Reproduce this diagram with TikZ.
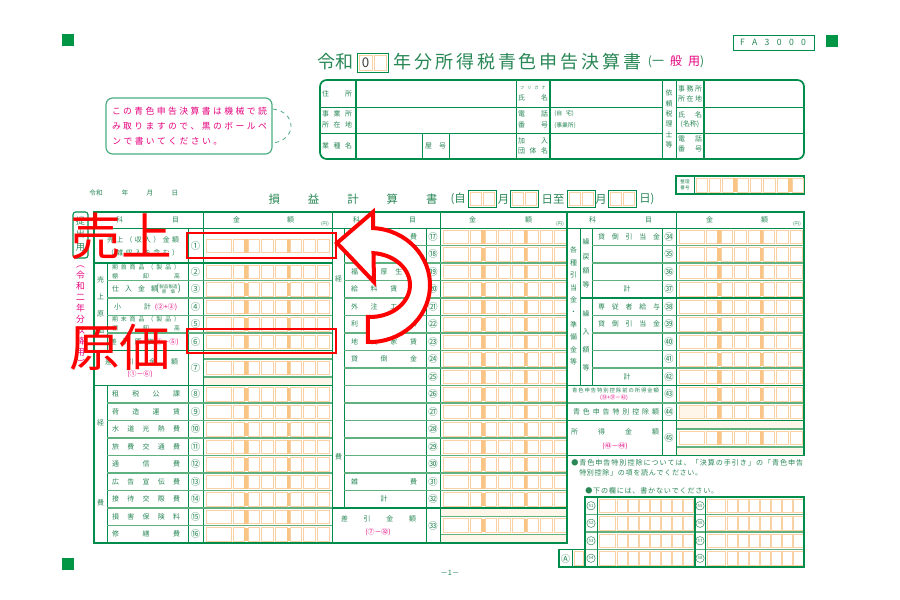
\documentclass[tikz,border=0pt]{standalone}
\usepackage{fontspec}
\setmainfont{Noto Sans CJK JP}
\usetikzlibrary{calc}
\definecolor{fgreen}{RGB}{0,140,75}
\definecolor{rgreen}{RGB}{95,178,128}
\definecolor{tgreen}{RGB}{40,135,85}
\definecolor{corange}{RGB}{250,208,165}
\definecolor{borange}{RGB}{248,197,135}
\definecolor{beige}{RGB}{253,246,233}
\definecolor{mgnta}{RGB}{230,0,126}
\definecolor{sqgreen}{RGB}{0,150,70}
\newlength\pxu \setlength\pxu{0.75pt}
\def\sprdA#1#2{#1\ifx\relax#2\else\hfil\expandafter\sprdA\expandafter#2\fi}
\newcommand\sprd[2]{\makebox[#1\pxu][s]{\expandafter\sprdA#2\relax}}
\newcommand\fszL{\fontsize{5.2}{6}\selectfont}
\newcommand\fszS{\fontsize{4.4}{5}\selectfont}
\newcommand\fszT{\fontsize{3.4}{4}\selectfont}
\newcommand\fszN{\fontsize{7}{8}\selectfont}
\newcommand\fszBig{\fontsize{38}{40}\selectfont}
\newcommand\amtrow[2]{%
  \draw[cellbox] ({#1+3},{#2}) rectangle ({#1+28},{#2+13.5});
  \foreach \cA/\cB in {30/41,45/56,58/70,72/84,87/98,100/112,114/126}
    {\draw[cellbox] ({#1+\cA},{#2}) rectangle ({#1+\cB},{#2+13.5});}
  \fill[borange] ({#1+41.2},{#2}) rectangle ({#1+44.8},{#2+13.5});
  \fill[borange] ({#1+84.2},{#2}) rectangle ({#1+86.8},{#2+13.5});
}
\newcommand\amtdbl[3]{%
  \fill[beige] ({#1},{#2}) rectangle ({#1+#3},{#2+35});
  \fill[white] ({#1},{#2+8.5}) rectangle ({#1+#3},{#2+26.5});
  \draw[rowl] ({#1},{#2+8.5}) -- ({#1+#3},{#2+8.5});
  \draw[rowl] ({#1},{#2+26.5}) -- ({#1+#3},{#2+26.5});
  \amtrow{#1}{#2+10.75}
}
\begin{document}
\begin{tikzpicture}[x=0.75pt,y=-0.75pt,
  outer/.style={draw=fgreen,line width=1.3pt},
  midl/.style={draw=fgreen,line width=1pt},
  inner/.style={draw=fgreen,line width=0.6pt},
  rowl/.style={draw=rgreen,line width=0.8pt},
  cellbox/.style={draw=corange,line width=0.55pt,fill=white},
  lbl/.style={text=tgreen,font=\fszL,inner sep=0pt},
  mg/.style={text=mgnta,font=\fszL,inner sep=0pt},
  num/.style={text=tgreen,font=\fszN,inner sep=0pt},
  cnum/.style={circle,draw=tgreen,line width=0.35pt,text=tgreen,inner sep=0pt,minimum size=6.3pt,font=\fontsize{3.2}{3.5}\selectfont},
  redbox/.style={draw=red,line width=2.2pt},
  bigred/.style={text=red,font=\fszBig,inner sep=0pt},
  redarrow/.style={draw=red,line width=3pt,fill=white,line join=miter}]
\useasboundingbox (0,0) rectangle (900,600);
\fill[white] (0,0) rectangle (900,600);

% corner marks
\fill[sqgreen] (62,34) rectangle (74,46);
\fill[sqgreen] (826,35) rectangle (838,47);
\fill[sqgreen] (62,558) rectangle (74,570);

% FA3000
\draw[inner] (733,35) rectangle (814,50);
\node[lbl,font=\fontsize{6.5}{7}\selectfont] (fa) at (773,42.5) {\sprd{66}{FA3000}};

% title
\node[lbl,font=\fontsize{13.5}{14}\selectfont] (t1) at (335,62) {令和};
\draw[inner] (357,53) rectangle (388,72);
\draw[cellbox] (359,55) rectangle (372,70);
\draw[cellbox] (374,55) rectangle (386,70);
\node[inner sep=0pt,text=black!75,font=\fontsize{10}{11}\selectfont] (t0) at (365.5,62.5) {0};
\node[lbl,font=\fontsize{13.5}{14}\selectfont] (t2) at (517.5,62) {\sprd{248}{年分所得税青色申告決算書}};
\node[inner sep=0pt,font=\fontsize{9}{10}\selectfont] (t3) at (676,62) {{\color{tgreen}(一}\hspace{4.5pt}{\color{mgnta}般}\hspace{4.5pt}{\color{mgnta}用}{\color{tgreen})}};

% note box
\draw[fgreen!70,line width=0.9pt,rounded corners=5] (106,98) rectangle (272,154);
\node[mg,font=\fontsize{6.6}{7}\selectfont] (nt1) at (189.5,111) {\sprd{155}{この青色申告決算書は機械で読}};
\node[mg,font=\fontsize{6.6}{7}\selectfont] (nt2) at (189.5,126) {\sprd{155}{み取りますので、黒のボールペ}};
\node[mg,font=\fontsize{6.6}{7}\selectfont,anchor=west] (nt3) at (112,141) {\sprd{110}{ンで書いてください。}};
\coordinate (dA) at (273,109);
\coordinate (dB) at (273,143);
\draw[fgreen!70,dashed,line width=0.6pt] (dA) .. controls (297,112) and (297,140) .. (dB);

% info box
\draw[outer,rounded corners=5] (320,80) rectangle (804,159);
\draw[midl] (356,80) -- (356,159);
\draw[inner] (516,80) -- (516,159);
\draw[midl] (550,80) -- (550,159);
\draw[inner] (662,80) -- (662,159);
\draw[inner] (676,80) -- (676,159);
\draw[midl] (704,80) -- (704,159);
\draw[inner] (320,107) -- (662,107);
\draw[inner] (676,107) -- (804,107);
\draw[inner] (320,133) -- (662,133);
\draw[inner] (676,133) -- (804,133);
\draw[inner] (422,133) -- (422,159);
\draw[inner] (449,133) -- (449,159);
\node[lbl] (i1) at (337,94) {\sprd{30}{住所}};
\node[lbl] (i2) at (337,114) {\sprd{30}{事業所}};
\node[lbl] (i3) at (337,125) {\sprd{30}{所在地}};
\node[lbl] (i4) at (337,146) {\sprd{30}{業種名}};
\node[lbl] (i5) at (435.5,146) {\sprd{21}{屋号}};
\node[lbl,font=\fontsize{3.2}{4}\selectfont] (i6) at (533,88) {\sprd{26}{フリガナ}};
\node[lbl] (i7) at (533,98) {\sprd{30}{氏名}};
\node[lbl] (i8) at (533,114) {\sprd{30}{電話}};
\node[lbl] (i9) at (533,125) {\sprd{30}{番号}};
\node[lbl] (i10) at (533,141) {\sprd{30}{加入}};
\node[lbl] (i11) at (533,151) {\sprd{30}{団体名}};
\node[lbl,anchor=west,font=\fszS] (i12) at (554,114) {(自\hspace{3pt}宅)};
\node[lbl,anchor=west,font=\fszS] (i13) at (554,126) {(事業所)};
\node[lbl,align=center,font=\fontsize{5.2}{7.8}\selectfont] (i14) at (669,119) {依\\頼\\税\\理\\士\\等};
\node[lbl] (i15) at (690,89) {\sprd{24}{事務所}};
\node[lbl] (i16) at (690,99) {\sprd{24}{所在地}};
\node[lbl] (i17) at (690,115) {\sprd{24}{氏名}};
\node[lbl] (i18) at (690,124) {(名称)};
\node[lbl] (i19) at (690,139) {\sprd{24}{電話}};
\node[lbl] (i20) at (690,149) {\sprd{24}{番号}};

% date line
\node[lbl,font=\fontsize{5}{6}\selectfont] (d1) at (96,193) {令和};
\node[lbl,font=\fontsize{5}{6}\selectfont] (d2) at (125,193) {年};
\node[lbl,font=\fontsize{5}{6}\selectfont] (d3) at (150,193) {月};
\node[lbl,font=\fontsize{5}{6}\selectfont] (d4) at (175,193) {日};

% heading
\node[lbl,font=\fontsize{8.5}{9}\selectfont] (pl) at (353,199) {\sprd{169}{損益計算書}};
\node[lbl,font=\fontsize{8.5}{9}\selectfont,anchor=east] (p1) at (466,199) {(自};
\node[lbl,font=\fontsize{8.5}{9}\selectfont] (p2) at (503.5,199) {月};
\node[lbl,font=\fontsize{8.5}{9}\selectfont] (p3) at (553,199) {日至};
\node[lbl,font=\fontsize{8.5}{9}\selectfont] (p4) at (601,199) {月};
\node[lbl,font=\fontsize{8.5}{9}\selectfont,anchor=west] (p5) at (639,199) {日)};
\foreach \bx in {468,510,567,608} {
  \draw[inner] (\bx,190) rectangle ({\bx+28},207);
  \draw[cellbox] ({\bx+2},192) rectangle ({\bx+13.5},205);
  \draw[cellbox] ({\bx+15},192) rectangle ({\bx+26},205);
}
% seiri bango
\draw[midl] (676,176) rectangle (804,194);
\draw[inner] (694,176) -- (694,194);
\node[lbl,font=\fontsize{3.4}{4.2}\selectfont,align=center] (zb) at (685,185) {整理\\番号};
\foreach \a/\b in {696/707,709/720,722/733,737/748,750/761,763/775,777/788,792/803}
  {\draw[cellbox] (\a,178) rectangle (\b,192);}
\fill[borange] (733.3,178) rectangle (736.7,192);
\fill[borange] (788.3,178) rectangle (791.7,192);

% left strip
\draw[fgreen,line width=0.8pt,rounded corners=2] (73,212) rectangle (88,258);
\node[lbl,align=center,font=\fontsize{6.8}{10}\selectfont] (v1) at (80.5,234) {提\\出\\用};
\node[mg,align=center,font=\fontsize{6.6}{8.25}\selectfont] (v2) at (80.5,316) {︵\\令\\和\\二\\年\\分\\以\\降\\用\\︶};

% ===== amounts =====
\amtrow{203}{239}
\foreach \k in {2,...,6} {\amtrow{203}{228+17.5*\k+2}}
\amtdbl{203}{350.5}{129}
\foreach \k in {9,...,17} {\amtrow{203}{228+17.5*\k+2}}
\foreach \k in {0,...,15} {\amtrow{440}{228+17.5*\k+2}}
\amtdbl{440}{508}{127}
\foreach \k in {0,...,10} {\amtrow{676}{228+17.5*\k+2}}
\draw[cellbox,fill=beige] (679,405) rectangle (704,418.5);
\amtdbl{676}{420.5}{128}

% ===== left section grid =====
\draw[inner] (203,212) -- (203,543);
\draw[inner] (188,228) -- (188,543);
\draw[inner] (94,228) -- (332.5,228);
\draw[midl] (94,263) -- (332.5,263);
\draw[midl] (94,350.5) -- (332.5,350.5);
\draw[midl] (94,385.5) -- (332.5,385.5);
\draw[inner] (107,263) -- (107,350.5);
\draw[inner] (107,385.5) -- (107,543);
\foreach \k in {3,...,6} {\draw[rowl] (107,{228+17.5*\k}) -- (332.5,{228+17.5*\k});}
\foreach \k in {10,...,17} {\draw[rowl] (107,{228+17.5*\k}) -- (332.5,{228+17.5*\k});}
\draw[outer] (94,212) rectangle (332.5,543);

% ===== middle section grid =====
\draw[inner] (440,212) -- (440,543);
\draw[inner] (426,228) -- (426,543);
\draw[inner] (332.5,228) -- (567,228);
\draw[inner] (344,228) -- (344,508);
\foreach \k in {1,...,15} {\draw[rowl] (344,{228+17.5*\k}) -- (567,{228+17.5*\k});}
\draw[midl] (332.5,508) -- (567,508);
\draw[outer] (332.5,212) rectangle (567,543);

% ===== right section grid =====
\draw[inner] (676,212) -- (676,455.5);
\draw[inner] (662,228) -- (662,455.5);
\draw[inner] (567,228) -- (804,228);
\draw[inner] (580,228) -- (580,385.5);
\draw[inner] (592,228) -- (592,385.5);
\foreach \k in {1,2,3,5,6,7,8} {\draw[rowl] (592,{228+17.5*\k}) -- (804,{228+17.5*\k});}
\draw[midl] (580,298) -- (804,298);
\draw[midl] (567,385.5) -- (804,385.5);
\draw[rowl] (567,403) -- (804,403);
\draw[midl] (567,420.5) -- (804,420.5);
\draw[outer] (567,212) rectangle (804,455.5);

% ===== headers =====
\node[lbl] (h1) at (147.5,220) {\sprd{63}{科目}};
\node[lbl] (h2) at (263.5,220) {\sprd{61}{金額}};
\node[lbl,font=\fszT] (h3) at (325,224) {(円)};
\node[lbl] (h4) at (384.5,220) {\sprd{63}{科目}};
\node[lbl] (h5) at (500.5,220) {\sprd{63}{金額}};
\node[lbl,font=\fszT] (h6) at (560,224) {(円)};
\node[lbl] (h7) at (620.5,220) {\sprd{63}{科目}};
\node[lbl] (h8) at (737,220) {\sprd{62}{金額}};
\node[lbl,font=\fszT] (h9) at (797,224) {(円)};

% ===== circled numbers =====
\node[num] (n1) at (195.5,245.5) {①};
\foreach \c [count=\i from 2] in {②,③,④,⑤,⑥} {\node[num] (nl\i) at (195.5,{228+17.5*\i+8.75}) {\c};}
\node[num] (n7) at (195.5,368) {⑦};
\foreach \c [count=\i from 9] in {⑧,⑨,⑩,⑪,⑫,⑬,⑭,⑮,⑯} {\node[num] (nl\i) at (195.5,{228+17.5*\i+8.75}) {\c};}
\foreach \c [count=\i from 0] in {⑰,⑱,⑲,⑳,㉑,㉒,㉓,㉔,㉕,㉖,㉗,㉘,㉙,㉚,㉛,㉜} {\node[num] (nm\i) at (433,{228+17.5*\i+8.75}) {\c};}
\node[num] (n33) at (433,525.5) {㉝};
\foreach \c [count=\i from 0] in {㉞,㉟,㊱,㊲,㊳,㊴,㊵,㊶,㊷,㊸,㊹} {\node[num] (nr\i) at (669,{228+17.5*\i+8.75}) {\c};}
\node[num] (n45) at (669,438) {㊺};

% ===== left labels =====
\node[lbl] (r1a) at (143,240) {\sprd{72}{売上（収入）金額}};
\node[lbl] (r1b) at (143,253) {\sprd{72}{（雑収入を含む）}};
\node[lbl,font=\fszS] (r2a) at (146,267.5) {\sprd{68}{期首商品（製品）}};
\node[lbl,font=\fszS] (r2b) at (146,276.5) {\sprd{68}{棚卸高}};
\node[lbl] (r3a) at (135,289.25) {\sprd{46}{仕入金額}};
\node[lbl,font=\fontsize{7}{8}\selectfont] (r3p) at (157.5,289) {(};
\node[lbl,font=\fontsize{7}{8}\selectfont] (r3q) at (179.5,289) {)};
\node[lbl,font=\fszT,align=center] (r3b) at (168.5,289.25) {製品製造\\原\hspace{3pt}価};
\node[lbl] (r4a) at (132.5,306.75) {\sprd{37}{小計}};
\node[mg] (r4b) at (166,306.75) {(②+③)};
\node[lbl,font=\fszS] (r5a) at (146,319.75) {\sprd{68}{期末商品（製品）}};
\node[lbl,font=\fszS] (r5b) at (146,328.75) {\sprd{68}{棚卸高}};
\node[lbl] (r6a) at (132,341.75) {\sprd{44}{差引原価}};
\node[mg] (r6b) at (166,341.75) {(④－⑤)};
\node[lbl] (r7a) at (141.5,362) {\sprd{73}{差引金額}};
\node[mg] (r7b) at (140,374.5) {(①－⑥)};
\node[lbl,align=center,font=\fontsize{5.2}{12.75}\selectfont] (s1) at (100.5,305.5) {売\\上\\原\\価};
\node[lbl] (s2) at (100.5,423) {経};
\node[lbl] (s3) at (100.5,503) {費};
\foreach \lab [count=\i from 9] in {租税公課,荷造運賃,水道光熱費,旅費交通費,通信費,広告宣伝費,接待交際費,損害保険料,修繕費}
  {\node[lbl] (e\i) at (146,{228+17.5*\i+8.75}) {\sprd{68}{\lab}};}

% ===== middle labels =====
\foreach \lab/\k in {消耗品費/0,減価償却費/1,福利厚生費/2,給料賃金/3,外注工賃/4,利子割引料/5,地代家賃/6,貸倒金/7,雑費/14}
  {\node[lbl] (m\k) at (384,{228+17.5*\k+8.75}) {\sprd{66}{\lab}};}
\node[lbl] (m15) at (384,499.25) {計};
\node[lbl] (s4) at (338.5,279) {経};
\node[lbl] (s5) at (338.5,457) {費};
\node[lbl] (m16) at (378.5,519) {\sprd{75}{差引金額}};
\node[mg] (m17) at (378,532) {(⑦－㉜)};

% ===== right labels =====
\foreach \lab/\k in {貸倒引当金/0,専従者給与/4,貸倒引当金/5}
  {\node[lbl] (q\k) at (629,{228+17.5*\k+8.75}) {\sprd{62}{\lab}};}
\node[lbl] (q3) at (627,289.25) {計};
\node[lbl] (q8) at (627,376.75) {計};
\node[lbl,align=center,font=\fontsize{5.2}{9.3}\selectfont] (s6) at (573.5,306) {各\\種\\引\\当\\金\\・\\準\\備\\金\\等};
\node[lbl,align=center,font=\fontsize{5.2}{10.7}\selectfont] (s7) at (586,263.5) {繰\\戻\\額\\等};
\node[lbl,align=center,font=\fontsize{5.2}{13.5}\selectfont] (s8) at (586,341) {繰\\入\\額\\等};
\node[lbl,font=\fontsize{4}{5}\selectfont] (q9) at (615.5,390) {\sprd{87}{青色申告特別控除前の所得金額}};
\node[mg,font=\fontsize{4}{5}\selectfont] (q10) at (614,398) {(㉝+㊲－㊷)};
\node[lbl] (q11) at (616,411.75) {\sprd{86}{青色申告特別控除額}};
\node[lbl] (q12) at (615,432) {\sprd{88}{所得金額}};
\node[mg] (q13) at (615,446) {(㊸－㊹)};

% ===== bottom notes =====
\node[lbl,anchor=west,font=\fontsize{5.3}{6}\selectfont] (bn1) at (571,463) {\sprd{232}{●青色申告特別控除については、「決算の手引き」の「青色申告}};
\node[lbl,anchor=west,font=\fontsize{5.3}{6}\selectfont] (bn2) at (579,473) {\sprd{123}{特別控除」の項を読んでください。}};
\node[lbl,anchor=west,font=\fontsize{5.3}{6}\selectfont] (bn3) at (585,491) {\sprd{133}{●下の欄には、書かないでください。}};

% ===== bottom table =====
\foreach \r in {0,...,3} {
  \draw[cellbox] (599,{499+17.5*\r}) rectangle (615,{512.5+17.5*\r});
  \foreach \a in {617,628,639,650,661,672,683} {\draw[cellbox] (\a,{499+17.5*\r}) rectangle ({\a+10},{512.5+17.5*\r});}
  \draw[cellbox] (707,{499+17.5*\r}) rectangle (725,{512.5+17.5*\r});
  \foreach \a in {727,738,749,760,771,782,793} {\draw[cellbox] (\a,{499+17.5*\r}) rectangle ({\a+10},{512.5+17.5*\r});}
}
\foreach \k in {1,2,3} {\draw[rowl] (585,{497+17.5*\k}) -- (804,{497+17.5*\k});}
\draw[inner] (597,497) -- (597,567);
\draw[midl] (695,497) -- (695,567);
\draw[inner] (705,497) -- (705,567);
\draw[midl] (585,497) rectangle (804,567);
\foreach \r in {0,...,3} {
  \pgfmathtruncatemacro\na{51+\r}
  \pgfmathtruncatemacro\nb{55+\r}
  \node[cnum] (bl\r) at (591,{505.75+17.5*\r}) {\na};
  \node[cnum] (br\r) at (700,{505.75+17.5*\r}) {\nb};
}
\draw[cellbox] (574,551.5) rectangle (583,565);
\draw[midl] (559,549.5) rectangle (585,567);
\draw[inner] (572,549.5) -- (572,567);
\node[num] (na) at (565.5,558.5) {Ⓐ};

\node[lbl,font=\fontsize{5.5}{6}\selectfont] (pg) at (450,573) {－1－};

% ===== red annotations =====
\draw[redbox] (187,233) rectangle (336,258);
\draw[redbox] (187,329) rectangle (336,353);
\coordinate (ac) at (370,285);
\draw[redarrow] (337,243) -- (373,212) -- ($(ac)+(-87:60 and 57)$)
  arc[start angle=-87,end angle=92,x radius=60,y radius=57]
  -- ($(ac)+(93:40 and 32)$)
  arc[start angle=93,end angle=-85,x radius=40,y radius=32]
  -- (374,282) -- cycle;
\node[bigred] (uri) at (121,236) {売上};
\node[bigred] (gen) at (120,347) {原価};
\end{tikzpicture}
\end{document}
